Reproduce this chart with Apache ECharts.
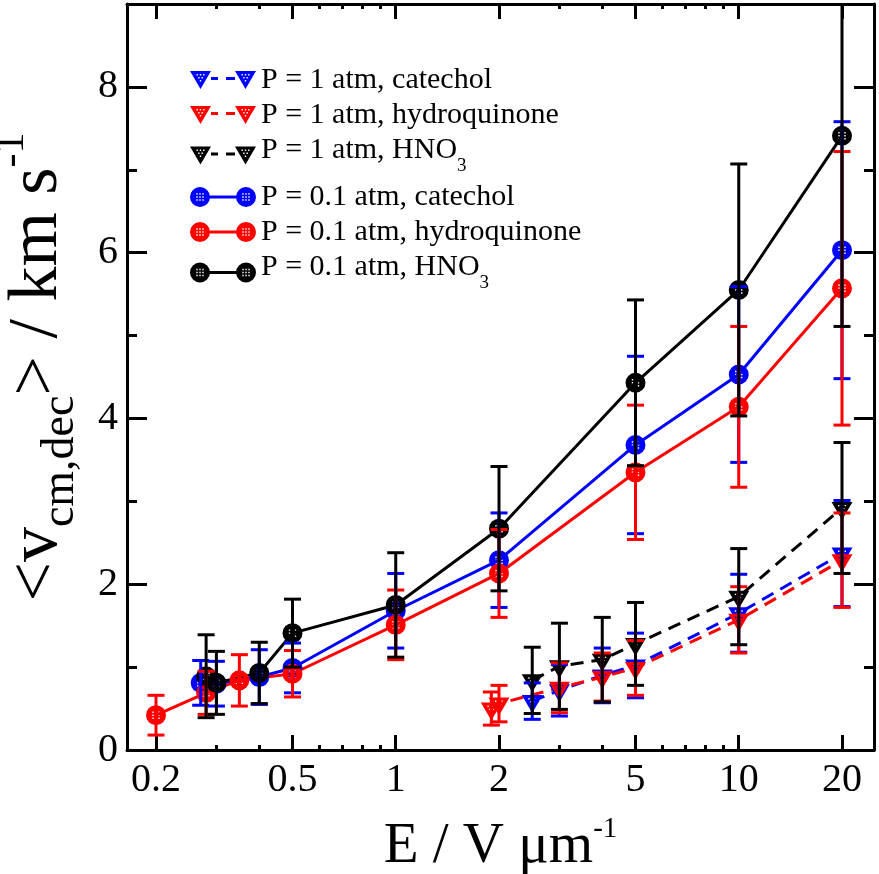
<!DOCTYPE html>
<html><head><meta charset="utf-8">
<script src="https://cdn.jsdelivr.net/npm/echarts@6/dist/echarts.min.js"></script>
<style>html,body{margin:0;padding:0;background:#fff}#c{width:879px;height:874px}</style>
</head><body><div id="c"></div>
<script>
// ---- tick definitions ----
const XTICKS = [0.2, 0.5, 1, 2, 5, 10, 20];
const XTICK_LABELS = ['0.2', '0.5', '1', '2', '5', '10', '20'];
const XMINOR = [0.3, 0.4, 0.6, 0.7, 0.8, 0.9, 3, 4, 6, 7, 8, 9];
const YTICKS = [0, 2, 4, 6, 8];
const YMINOR = [1, 3, 5, 7];
const X_MIN = 0.16, X_MAX = 25, Y_MIN = 0, Y_MAX = 9;

// ---- data: P = 1 atm ----
const E_cat1 = [2.5, 3, 4, 5, 10, 20];
const v_cat1 = [0.59, 0.72, 0.90, 1.02, 1.65, 2.37];
const e_cat1 = [0.22, 0.31, 0.33, 0.39, 0.47, 0.64];

const E_hq1 = [1.9, 2, 3, 4, 5, 10, 20];
const v_hq1 = [0.50, 0.56, 0.75, 0.88, 0.99, 1.57, 2.29];
const e_hq1 = [0.20, 0.22, 0.30, 0.29, 0.33, 0.40, 0.57];

const E_hno1 = [2.5, 3, 4, 5, 10, 20];
const v_hno1 = [0.84, 1.01, 1.09, 1.28, 1.85, 2.92];
const e_hno1 = [0.40, 0.52, 0.51, 0.50, 0.58, 0.79];

// ---- data: P = 0.1 atm ----
const E_cat01 = [0.27, 0.3, 0.4, 0.5, 1, 2, 5, 10, 20];
const v_cat01 = [0.81, 0.80, 0.88, 0.99, 1.68, 2.29, 3.68, 4.53, 6.03];
const e_cat01 = [0.27, 0.27, 0.33, 0.30, 0.45, 0.57, 1.07, 1.06, 1.55];

const E_hq01 = [0.2, 0.28, 0.35, 0.5, 1, 2, 5, 10, 20];
const v_hq01 = [0.42, 0.69, 0.84, 0.92, 1.51, 2.13, 3.35, 4.14, 5.57];
const e_hq01 = [0.24, 0.26, 0.31, 0.28, 0.42, 0.53, 0.81, 0.97, 1.65];

const E_hno01 = [0.28, 0.3, 0.4, 0.5, 1, 2, 5, 10, 20];
const v_hno01 = [0.89, 0.81, 0.93, 1.41, 1.75, 2.67, 4.43, 5.55, 7.41];
const e_hno01 = [0.50, 0.38, 0.37, 0.41, 0.63, 0.75, 1.00, 1.52, 2.30];

const NAMES = ['P = 1 atm, catechol', 'P = 1 atm, hydroquinone', 'P = 1 atm, HNO3',
               'P = 0.1 atm, catechol', 'P = 0.1 atm, hydroquinone', 'P = 0.1 atm, HNO3'];

const FONT = 'Liberation Serif';
const BLUE = '#0000ff', RED = '#ff0000', BLACK = '#000000';

// frame (visible axes) spans 0.2..20 between these pixel columns
const FRAME = { left: 127, right: 5, top: 4, bottom: 124, outerBoundsMode: 'none', containLabel: false };
const PX_02 = 156, PX_20 = 842;
const PX_DEC = (PX_20 - PX_02) / 2;
const DATA_LEFT = PX_02 - PX_DEC * Math.log10(0.2 / X_MIN);
const DATA_RIGHT = 879 - (PX_20 + PX_DEC * Math.log10(X_MAX / 20));
const LX_MIN = Math.log10(0.2) - (PX_02 - FRAME.left) / PX_DEC;
const LX_MAX = Math.log10(20) + ((879 - FRAME.right) - PX_20) / PX_DEC;
const log = a => a.map(v => Math.log10(v));

// ---- stippled marker shapes (white specks as holes) ----
function sq(x, y, s) { return 'M' + x + ',' + y + 'L' + x + ',' + (y + s) + 'L' + (x + s) + ',' + (y + s) + 'L' + (x + s) + ',' + y + 'Z'; }
function circlePath(ox) {
  let p = 'M' + ox + ',10A10,10,0,1,1,' + (ox + 20) + ',10A10,10,0,1,1,' + ox + ',10Z';
  [6.3, 9.3, 12.3].forEach(x => [6.3, 9.3, 12.3].forEach(y => { p += sq(ox + x, y, 1.4); }));
  return p;
}
function triPath(ox) {
  let p = 'M' + ox + ',0L' + (ox + 21) + ',0L' + (ox + 10.5) + ',18Z';
  [[6.5, 3], [9.8, 3], [13.1, 3], [8.2, 6], [11.5, 6], [9.8, 9]].forEach(d => { p += sq(ox + d[0], d[1], 1.4); });
  return p;
}
const SYM_CIR = 'path://' + circlePath(0);
const SYM_TRI = 'path://' + triPath(0);
const ICON_TRI = 'path://' + triPath(0) + triPath(45) + 'M21,6L28,6L28,9L21,9Z M36,6L45,6L45,9L36,9Z';
const ICON_CIR = 'path://' + circlePath(0) + circlePath(46) + 'M18,8.5L48,8.5L48,11.5L18,11.5Z';

function pts(E, v) { return E.map((x, i) => [x, v[i]]); }
function errPts(E, v, e) { return E.map((x, i) => [x, v[i], e[i]]); }

function errRender(color) {
  return function (params, api) {
    const x = api.value(0), y = api.value(1), e = api.value(2);
    const lo = Math.max(y - e, Y_MIN), hi = Math.min(y + e, Y_MAX);
    const p0 = api.coord([x, lo]), p1 = api.coord([x, hi]);
    const hw = 8.5;
    const st = { stroke: color, lineWidth: 3 };
    const ch = [{ type: 'line', shape: { x1: p0[0], y1: p0[1], x2: p1[0], y2: p1[1] }, style: st }];
    if (y - e >= Y_MIN) ch.push({ type: 'line', shape: { x1: p0[0] - hw, y1: p0[1], x2: p0[0] + hw, y2: p0[1] }, style: st });
    if (y + e <= Y_MAX) ch.push({ type: 'line', shape: { x1: p1[0] - hw, y1: p1[1], x2: p1[0] + hw, y2: p1[1] }, style: st });
    return { type: 'group', children: ch };
  };
}

function lineSeries(name, E, v, color, dashed) {
  return {
    type: 'line', name: name, xAxisIndex: 0, yAxisIndex: 0,
    data: pts(E, v), z: 3,
    symbol: dashed ? SYM_TRI : SYM_CIR,
    symbolSize: dashed ? [21, 18] : 20,
    symbolOffset: dashed ? [0, 3] : [0, 0],
    itemStyle: { color: color, borderWidth: 0 },
    lineStyle: { color: color, width: 3, type: dashed ? [13, 8] : 'solid' },
    emphasis: { disabled: true },
    animation: false
  };
}
function errSeries(E, v, e, color) {
  return {
    type: 'custom', xAxisIndex: 0, yAxisIndex: 0, z: 4,
    data: errPts(E, v, e), encode: { x: 0, y: 1 },
    renderItem: errRender(color), animation: false, silent: true
  };
}

function legendFmt(name) {
  if (name.endsWith('HNO3')) return '{tm|' + name.slice(0, -1) + '}{s|3}';
  return '{t|' + name + '}';
}
const legendRich = {
  t: { fontFamily: FONT, fontSize: 30, lineHeight: 30, color: '#000' },
  tm: { fontFamily: FONT, fontSize: 30, lineHeight: 30, color: '#000', padding: [0, 0, 10, 0] },
  s: { fontFamily: FONT, fontSize: 19, lineHeight: 18, color: '#000', padding: [22, 0, 0, 0] }
};
function legend(names, icon, top) {
  return {
    orient: 'vertical', left: 190, top: top, padding: 0, itemGap: 5,
    itemWidth: 66, itemHeight: 20, selectedMode: false,
    data: names.map(n => ({ name: n, icon: icon })),
    itemStyle: { borderWidth: 0 },
    formatter: legendFmt,
    textStyle: { fontFamily: FONT, fontSize: 30, color: '#000', rich: legendRich }
  };
}

const axLine = { show: true, onZero: false, lineStyle: { color: '#000', width: 3 } };
const noLine = { show: false, onZero: false };
function ticks(vals, len) { return { show: true, inside: true, length: len, customValues: vals, lineStyle: { color: '#000', width: 3 } }; }
const noLabel = { show: false };
const noSplit = { show: false };

const option = {
  backgroundColor: '#fff',
  animation: false,
  grid: [
    { left: DATA_LEFT, right: DATA_RIGHT, top: FRAME.top, bottom: FRAME.bottom, outerBoundsMode: 'none', containLabel: false },
    Object.assign({}, FRAME),
    Object.assign({}, FRAME)
  ],
  legend: [
    legend(NAMES.slice(0, 3), ICON_TRI, 65),
    legend(NAMES.slice(3), ICON_CIR, 182)
  ],
  xAxis: [
    { type: 'log', gridIndex: 0, logBase: 10, min: X_MIN, max: X_MAX, show: false },
    { type: 'value', gridIndex: 1, position: 'bottom', min: LX_MIN, max: LX_MAX,
      axisLine: axLine, axisTick: ticks(log(XTICKS), 15), splitLine: noSplit,
      axisLabel: { customValues: log(XTICKS), fontFamily: FONT, fontSize: 40, color: '#000', margin: 10,
        formatter: function (val) {
          const e = Math.pow(10, val);
          for (let i = 0; i < XTICKS.length; i++) if (Math.abs(XTICKS[i] - e) / XTICKS[i] < 0.01) return XTICK_LABELS[i];
          return '';
        } },
      name: '{a|E / V μm}{p|-1}', nameLocation: 'middle', nameGap: 49,
      nameTextStyle: { rich: {
        a: { fontFamily: FONT, fontSize: 57, lineHeight: 57, color: '#000', padding: [14, 0, 0, 0] },
        p: { fontFamily: FONT, fontSize: 29, lineHeight: 29, color: '#000', padding: [10, 0, 32, 0] }
      } } },
    { type: 'value', gridIndex: 1, position: 'top', min: LX_MIN, max: LX_MAX,
      axisLine: axLine, axisTick: ticks(log(XTICKS), 15), axisLabel: noLabel, splitLine: noSplit },
    { type: 'value', gridIndex: 2, position: 'bottom', min: LX_MIN, max: LX_MAX,
      axisLine: noLine, axisTick: ticks(log(XMINOR), 5), axisLabel: noLabel, splitLine: noSplit },
    { type: 'value', gridIndex: 2, position: 'top', min: LX_MIN, max: LX_MAX,
      axisLine: noLine, axisTick: ticks(log(XMINOR), 5), axisLabel: noLabel, splitLine: noSplit }
  ],
  yAxis: [
    { type: 'value', gridIndex: 0, min: Y_MIN, max: Y_MAX, show: false },
    { type: 'value', gridIndex: 1, position: 'left', min: Y_MIN, max: Y_MAX,
      axisLine: axLine, axisTick: ticks(YTICKS, 20), splitLine: noSplit,
      axisLabel: { customValues: YTICKS, fontFamily: FONT, fontSize: 40, color: '#000', margin: 9 },
      name: '{a|<v}{b|cm,dec}{a|> / km s}{p|-1}', nameLocation: 'middle', nameRotate: 90, nameGap: 33,
      nameTextStyle: { padding: [0, 0, 0, 20], rich: {
        a: { fontFamily: FONT, fontSize: 70, lineHeight: 70, color: '#000', padding: [20, 0, 14, 0] },
        b: { fontFamily: FONT, fontSize: 46, lineHeight: 46, color: '#000', padding: [55, 0, 3, 0] },
        p: { fontFamily: FONT, fontSize: 42, lineHeight: 42, color: '#000', padding: [8, 0, 54, 0] }
      } } },
    { type: 'value', gridIndex: 1, position: 'right', min: Y_MIN, max: Y_MAX,
      axisLine: axLine, axisTick: ticks(YTICKS, 20), axisLabel: noLabel, splitLine: noSplit },
    { type: 'value', gridIndex: 2, position: 'left', min: Y_MIN, max: Y_MAX,
      axisLine: noLine, axisTick: ticks(YMINOR, 10), axisLabel: noLabel, splitLine: noSplit },
    { type: 'value', gridIndex: 2, position: 'right', min: Y_MIN, max: Y_MAX,
      axisLine: noLine, axisTick: ticks(YMINOR, 10), axisLabel: noLabel, splitLine: noSplit }
  ],
  series: [
    lineSeries(NAMES[0], E_cat1, v_cat1, BLUE, true),
    lineSeries(NAMES[1], E_hq1, v_hq1, RED, true),
    lineSeries(NAMES[2], E_hno1, v_hno1, BLACK, true),
    lineSeries(NAMES[3], E_cat01, v_cat01, BLUE, false),
    lineSeries(NAMES[4], E_hq01, v_hq01, RED, false),
    lineSeries(NAMES[5], E_hno01, v_hno01, BLACK, false),
    errSeries(E_cat1, v_cat1, e_cat1, BLUE),
    errSeries(E_hq1, v_hq1, e_hq1, RED),
    errSeries(E_hno1, v_hno1, e_hno1, BLACK),
    errSeries(E_cat01, v_cat01, e_cat01, BLUE),
    errSeries(E_hq01, v_hq01, e_hq01, RED),
    errSeries(E_hno01, v_hno01, e_hno01, BLACK)
  ]
};

const chart = echarts.init(document.getElementById('c'), null, { renderer: 'canvas' });
chart.setOption(option);
</script></body></html>
